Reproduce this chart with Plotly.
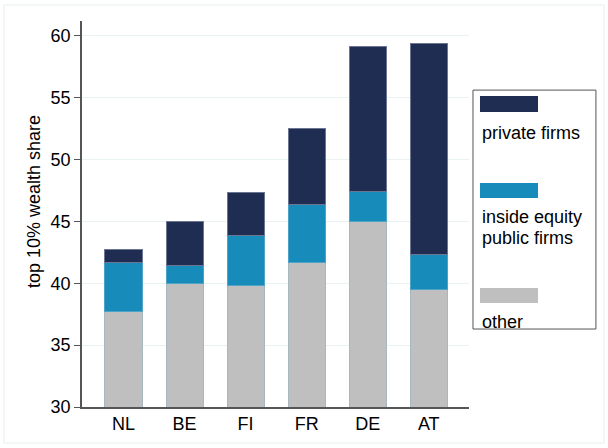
import plotly.graph_objects as go

countries = ["NL", "BE", "FI", "FR", "DE", "AT"]
other = [37.7, 40.0, 39.8, 41.7, 45.0, 39.5]
inside_equity = [4.0, 1.4, 4.1, 4.65, 2.4, 2.8]
private_firms = [1.0, 3.6, 3.4, 6.2, 11.7, 17.1]
y_ticks = [30, 35, 40, 45, 50, 55, 60]

NAVY = "#1F2D53"
BLUE = "#178CBB"
GRAY = "#BFBFBF"
FONT = "Liberation Sans, Arial, Helvetica, sans-serif"

fig = go.Figure()
fig.add_trace(go.Bar(x=countries, y=other, name="other", marker=dict(color=GRAY, line=dict(color="#A8B6BE", width=1))))
fig.add_trace(go.Bar(x=countries, y=inside_equity, name="inside equity public firms", marker=dict(color=BLUE, line=dict(color="#4FA3C8", width=1))))
fig.add_trace(go.Bar(x=countries, y=private_firms, name="private firms", marker=dict(color=NAVY, line=dict(color="#6C7592", width=1))))

fig.update_layout(
    barmode="stack",
    bargap=0.393,
    width=608, height=448,
    margin=dict(l=82, r=139, t=21, b=41),
    paper_bgcolor="white", plot_bgcolor="white",
    font=dict(family=FONT, size=18, color="black"),
    showlegend=False,
)
fig.update_xaxes(
    range=[-0.68, 5.66], showline=True, linecolor="#555555", linewidth=1.5,
    ticks="", showgrid=False, tickfont=dict(size=18),
)
fig.update_yaxes(
    range=[30, 61.2], tickvals=y_ticks, showline=True, linecolor="#555555", linewidth=1.5,
    ticks="outside", ticklen=6, tickcolor="#555555", tickwidth=1,
    showgrid=True, gridcolor="#EAF1F3", gridwidth=1, zeroline=False,
    tickfont=dict(size=18),
)

# y-axis title
fig.add_annotation(text="top 10% wealth share", xref="paper", yref="paper", x=-0.124, y=0.531,
                   showarrow=False, textangle=-90, font=dict(size=18), xanchor="center", yanchor="middle")

# faint outer frame
fig.add_shape(type="rect", xref="paper", yref="paper", x0=-0.2016, x1=1.349, y0=-0.0933, y1=1.0415,
              line=dict(color="#E6EEF1", width=1), layer="below")

# custom legend
fig.add_shape(type="rect", xref="paper", yref="paper", x0=1.0103, x1=1.328, y0=0.202, y1=0.821,
              line=dict(color="#555555", width=1))
swatches = [(NAVY, 0.7642, 0.8057), (BLUE, 0.5415, 0.5803), (GRAY, 0.2694, 0.3083)]
for col, y0, y1 in swatches:
    fig.add_shape(type="rect", xref="paper", yref="paper", x0=1.0284, x1=1.1783, y0=y0, y1=y1,
                  line=dict(width=0), fillcolor=col)
labels = [("private firms", 0.7098), ("inside equity", 0.4922), ("public firms", 0.4379), ("other", 0.2202)]
for txt, yy in labels:
    fig.add_annotation(text=txt, xref="paper", yref="paper", x=1.0284, y=yy, showarrow=False,
                       xanchor="left", yanchor="middle", font=dict(size=18))

fig.write_html("out.html", config={"displayModeBar": False},
               post_script="document.body.style.margin='0';")
